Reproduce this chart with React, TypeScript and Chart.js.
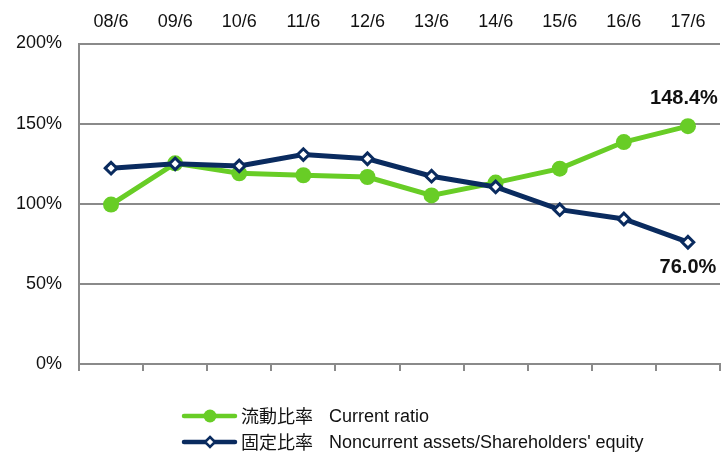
import React, { useEffect, useRef } from "react";
import { Chart, registerables } from "chart.js";

Chart.register(...registerables);

const categories = ["08/6", "09/6", "10/6", "11/6", "12/6", "13/6", "14/6", "15/6", "16/6", "17/6"];
const currentRatio = [99.5, 125.2, 119.0, 117.8, 116.7, 105.2, 113.2, 121.9, 138.5, 148.4];
const fixedRatio = [122.2, 124.9, 123.6, 130.7, 128.1, 117.2, 110.5, 96.3, 90.5, 76.0];
const seriesJa = ["流動比率", "固定比率"];
const seriesEn = ["Current ratio", "Noncurrent assets/Shareholders' equity"];
const endLabels = ["148.4%", "76.0%"];

const GREEN = "#68cd26";
const NAVY = "#0a2b5f";
const GRID = "#8a8a8a";
const FONT = '"Liberation Sans", Arial, "Noto Sans CJK JP", sans-serif';

export default function App() {
  const ref = useRef<HTMLCanvasElement | null>(null);

  useEffect(() => {
    document.body.style.margin = "0";
    document.body.style.overflow = "hidden";
    const canvas = ref.current;
    if (!canvas) return;

    const overlay = {
      id: "overlay",
      afterDatasetsDraw(chart: any) {
        const ctx = chart.ctx;
        ctx.save();
        ctx.font = `bold 20px ${FONT}`;
        ctx.fillStyle = "#111";
        ctx.textAlign = "center";
        ctx.textBaseline = "middle";
        const m0 = chart.getDatasetMeta(0).data;
        const m1 = chart.getDatasetMeta(1).data;
        const p0 = m0[m0.length - 1];
        const p1 = m1[m1.length - 1];
        ctx.fillText(endLabels[0], p0.x - 4, p0.y - 28);
        ctx.fillText(endLabels[1], p1.x, p1.y + 25);

        const rows = [
          { y: 416, color: GREEN, style: "circle" },
          { y: 442, color: NAVY, style: "diamond" },
        ];
        rows.forEach((r, i) => {
          ctx.strokeStyle = r.color;
          ctx.lineWidth = 4.5;
          ctx.lineCap = "round";
          ctx.beginPath();
          ctx.moveTo(184, r.y);
          ctx.lineTo(235, r.y);
          ctx.stroke();
          if (r.style === "circle") {
            ctx.fillStyle = r.color;
            ctx.beginPath();
            ctx.arc(210, r.y, 6.5, 0, Math.PI * 2);
            ctx.fill();
          } else {
            ctx.fillStyle = "#fff";
            ctx.lineWidth = 2.5;
            ctx.beginPath();
            ctx.moveTo(210, r.y - 5);
            ctx.lineTo(215, r.y);
            ctx.lineTo(210, r.y + 5);
            ctx.lineTo(205, r.y);
            ctx.closePath();
            ctx.fill();
            ctx.stroke();
          }
          ctx.fillStyle = "#111";
          ctx.textAlign = "left";
          ctx.textBaseline = "middle";
          ctx.font = `18px "Noto Sans CJK JP", ${FONT}`;
          ctx.fillText(seriesJa[i], 241, r.y);
          ctx.font = `18px ${FONT}`;
          ctx.fillText(seriesEn[i], 329, r.y + 1);
        });
        ctx.restore();
      },
    };

    const noPad = (s: any) => {
      s.paddingLeft = 0;
      s.paddingRight = 0;
    };

    const chart = new Chart(canvas, {
      type: "line",
      data: {
        labels: categories,
        datasets: [
          {
            label: seriesJa[0] + "  " + seriesEn[0],
            data: currentRatio,
            borderColor: GREEN,
            backgroundColor: GREEN,
            borderWidth: 5,
            pointStyle: "circle",
            pointRadius: 8,
            pointBorderWidth: 0,
            pointBackgroundColor: GREEN,
            xAxisID: "x",
            order: 2,
          },
          {
            label: seriesJa[1] + "  " + seriesEn[1],
            data: fixedRatio,
            borderColor: NAVY,
            backgroundColor: "#ffffff",
            borderWidth: 5,
            pointStyle: "rectRot",
            pointRadius: 5.8,
            pointBorderWidth: 3,
            pointBorderColor: NAVY,
            pointBackgroundColor: "#ffffff",
            xAxisID: "x",
            order: 1,
          },
        ],
      },
      options: {
        animation: false,
        responsive: false,
        maintainAspectRatio: false,
        devicePixelRatio: 1,
        layout: { autoPadding: false, padding: { left: 0, right: 2, top: 0, bottom: 0 } },
        plugins: {
          legend: { display: false },
          tooltip: { enabled: false },
        },
        scales: {
          x: {
            type: "category",
            position: "top",
            offset: true,
            grid: { display: false, drawTicks: false },
            border: { display: false },
            ticks: {
              color: "#111",
              font: { family: FONT, size: 18 },
              padding: 11,
              maxRotation: 0,
              autoSkip: false,
            },
            afterFit: (s: any) => {
              s.height = 43.5;
              noPad(s);
            },
          },
          x2: {
            type: "category",
            position: "bottom",
            labels: categories,
            offset: true,
            grid: {
              offset: true,
              drawOnChartArea: false,
              drawTicks: true,
              tickLength: 7,
              color: GRID,
              lineWidth: 2,
            },
            border: { display: true, color: GRID, width: 2 },
            ticks: { display: false },
            afterFit: (s: any) => {
              s.height = 88;
              noPad(s);
            },
          },
          y: {
            min: 0,
            max: 200,
            ticks: {
              stepSize: 50,
              color: "#111",
              font: { family: FONT, size: 18 },
              padding: 17,
              callback: (v: any) => v + "%",
            },
            grid: { color: GRID, lineWidth: 2, drawTicks: false },
            border: { display: true, color: GRID, width: 2 },
            afterFit: (s: any) => {
              s.width = 79;
              s.paddingTop = 0;
              s.paddingBottom = 0;
            },
          },
        },
      },
      plugins: [overlay],
    });

    return () => chart.destroy();
  }, []);

  return (
    <div style={{ position: "absolute", left: 0, top: 0, width: 722, height: 452 }}>
      <canvas ref={ref} width={722} height={452} style={{ display: "block", width: 722, height: 452 }} />
    </div>
  );
}
